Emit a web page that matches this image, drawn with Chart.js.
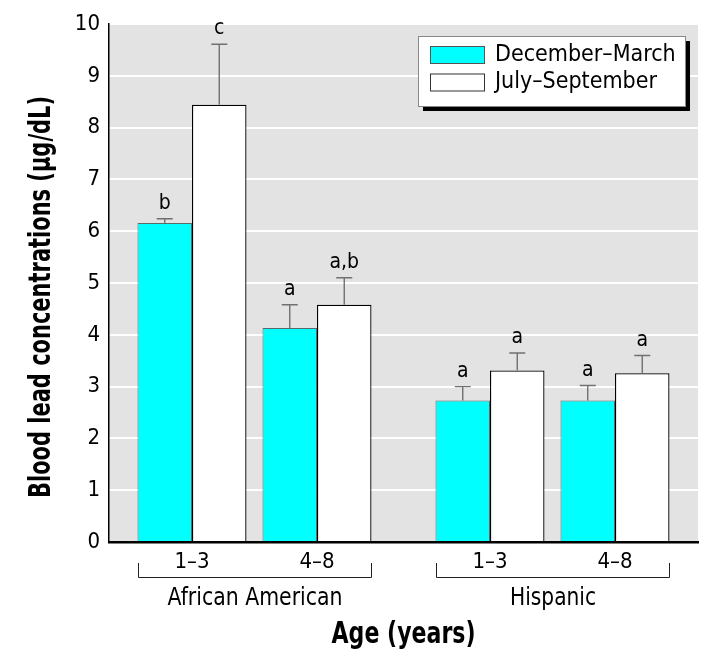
<!DOCTYPE html>
<html>
<head>
<meta charset="utf-8">
<script src="https://cdn.jsdelivr.net/npm/chart.js@4/dist/chart.umd.min.js"></script>
<style>
  html, body { margin: 0; background: #fff; }
  canvas { display: block; }
</style>
</head>
<body>
<canvas id="grafico" width="721" height="659"></canvas>
<script>
// dados
const ages = ['1–3', '4–8', '1–3', '4–8'];
const groupOf = [0, 0, 1, 1];
const groups = ['African American', 'Hispanic'];
const seriesNames = ['December–March', 'July–September'];
const decMar = [6.16, 4.13, 2.73, 2.73];
const decMarSE = [0.08, 0.45, 0.27, 0.29];
const julSep = [8.44, 4.58, 3.31, 3.26];
const julSepSE = [1.17, 0.52, 0.34, 0.34];
const decMarSig = ['b', 'a', 'a', 'a'];
const julSepSig = ['c', 'a,b', 'a', 'a'];
const yMin = 0, yMax = 10, yStep = 1;

const FONT = "'DejaVu Sans Condensed', 'Liberation Sans Narrow', sans-serif";
const GROUP_GAP = 0.384; // espaco extra entre os grupos
const SIDE = 0.664;      // margem lateral do eixo x
const xPos = ages.map((a, i) => i + groupOf[i] * GROUP_GAP);

const errs = [decMarSE, julSepSE];
const sigs = [decMarSig, julSepSig];

Chart.defaults.font.family = FONT;
Chart.defaults.color = '#000';

// texto comprimido na horizontal (fonte condensada do original)
function textoEstreito(ctx, txt, x, y, largura) {
  const w = ctx.measureText(txt).width;
  const sx = Math.min(1, largura / w);
  ctx.save();
  ctx.translate(x, y);
  ctx.scale(sx, 1);
  ctx.textAlign = 'center';
  ctx.fillText(txt, 0, 0);
  ctx.restore();
}

// fundo cinza da area do grafico
const fundo = {
  id: 'fundo',
  beforeDraw(chart) {
    const { ctx, chartArea: a } = chart;
    ctx.save();
    ctx.fillStyle = '#fff';
    ctx.fillRect(0, 0, chart.width, chart.height);
    ctx.fillStyle = '#e3e3e3';
    ctx.fillRect(a.left, a.top, a.right - a.left, a.bottom - a.top);
    ctx.restore();
  }
};

// barras de erro + letras
const erros = {
  id: 'erros',
  afterDatasetsDraw(chart) {
    const ctx = chart.ctx;
    const y = chart.scales.y;
    ctx.save();
    chart.data.datasets.forEach((ds, di) => {
      const meta = chart.getDatasetMeta(di);
      meta.data.forEach((bar, i) => {
        const top = y.getPixelForValue(ds.data[i].y + errs[di][i]);
        ctx.strokeStyle = '#707070';
        ctx.lineWidth = 1.4;
        ctx.beginPath();
        ctx.moveTo(bar.x, bar.y);
        ctx.lineTo(bar.x, top);
        ctx.moveTo(bar.x - 8, top);
        ctx.lineTo(bar.x + 8, top);
        ctx.stroke();
        ctx.fillStyle = '#000';
        ctx.font = '21px ' + FONT;
        ctx.textBaseline = 'alphabetic';
        textoEstreito(ctx, sigs[di][i], bar.x, top - 10, 30);
      });
    });
    ctx.restore();
  }
};

// colchetes dos grupos, titulos e legenda
const extras = {
  id: 'extras',
  afterDraw(chart) {
    const { ctx, chartArea: a } = chart;
    const m0 = chart.getDatasetMeta(0), m1 = chart.getDatasetMeta(1);
    const base = a.bottom;
    ctx.save();
    ctx.strokeStyle = '#222';
    ctx.lineWidth = 1;
    ctx.fillStyle = '#000';
    ctx.textBaseline = 'alphabetic';
    groups.forEach((g, gi) => {
      const idx = groupOf.map((v, i) => v === gi ? i : -1).filter(i => i >= 0);
      const b0 = m0.data[idx[0]], b1 = m1.data[idx[idx.length - 1]];
      const left = Math.round(b0.x - b0.width / 2) + 0.5;
      const right = Math.round(b1.x + b1.width / 2) - 0.5;
      ctx.beginPath();
      ctx.moveTo(left, base + 21);
      ctx.lineTo(left, base + 35.5);
      ctx.lineTo(right, base + 35.5);
      ctx.lineTo(right, base + 21);
      ctx.stroke();
      ctx.font = '24px ' + FONT;
      textoEstreito(ctx, g, (left + right) / 2, base + 63, gi === 0 ? 175 : 86);
    });

    // titulos dos eixos
    ctx.font = 'bold 30px ' + FONT;
    textoEstreito(ctx, 'Age (years)', (a.left + a.right) / 2, base + 101, 144);
    ctx.save();
    ctx.translate(50, 297);
    ctx.rotate(-Math.PI / 2);
    textoEstreito(ctx, 'Blood lead concentrations (µg/dL)', 0, 0, 402);
    ctx.restore();

    // legenda
    const lx = 418, ly = 36, lw = 267, lh = 70;
    ctx.fillStyle = '#000';
    ctx.fillRect(lx + 5, ly + 5, lw, lh);
    ctx.fillStyle = '#fff';
    ctx.fillRect(lx, ly, lw, lh);
    ctx.strokeStyle = '#888';
    ctx.strokeRect(lx + 0.5, ly + 0.5, lw, lh);
    chart.data.datasets.forEach((ds, di) => {
      const ry = ly + 10 + di * 27.5;
      ctx.fillStyle = ds.backgroundColor;
      ctx.fillRect(lx + 12, ry, 54, 17);
      ctx.strokeStyle = di === 0 ? '#555' : '#333';
      ctx.strokeRect(lx + 12.5, ry + 0.5, 54, 17);
      ctx.fillStyle = '#000';
      ctx.font = '23px ' + FONT;
      ctx.textAlign = 'left';
      ctx.textBaseline = 'middle';
      ctx.fillText(ds.label, lx + 77, ry + 9);
    });
    ctx.restore();
  }
};

new Chart(document.getElementById('grafico'), {
  type: 'bar',
  data: {
    datasets: [
      {
        label: seriesNames[0],
        data: decMar.map((v, i) => ({ x: xPos[i], y: v })),
        backgroundColor: '#00ffff',
        borderColor: '#5a6a6a',
        borderWidth: 1
      },
      {
        label: seriesNames[1],
        data: julSep.map((v, i) => ({ x: xPos[i], y: v })),
        backgroundColor: '#ffffff',
        borderColor: '#000',
        borderWidth: 1.3
      }
    ]
  },
  options: {
    responsive: false,
    animation: false,
    categoryPercentage: 0.872,
    barPercentage: 1,
    layout: { padding: { left: 0, right: 23, top: 24, bottom: 0 } },
    plugins: {
      legend: { display: false },
      tooltip: { enabled: false }
    },
    scales: {
      x: {
        type: 'linear',
        offset: false,
        z: 1,
        min: xPos[0] - SIDE,
        max: xPos[xPos.length - 1] + SIDE,
        afterBuildTicks: (scale) => { scale.ticks = xPos.map(v => ({ value: v })); },
        afterFit: (scale) => { scale.height = 117; },
        ticks: {
          autoSkip: false,
          maxRotation: 0,
          padding: 7,
          font: { size: 22 },
          callback: (value, index) => ages[index]
        },
        grid: { display: false, drawTicks: false },
        border: { display: true, color: '#000', width: 2.5 }
      },
      y: {
        min: yMin,
        max: yMax,
        afterFit: (scale) => { scale.width = 109; },
        ticks: { stepSize: yStep, padding: 9, font: { size: 22 } },
        grid: { color: '#ffffff', lineWidth: 2, drawTicks: false },
        border: { display: true, color: '#000', width: 1.5 }
      }
    }
  },
  plugins: [fundo, erros, extras]
});
</script>
</body>
</html>
